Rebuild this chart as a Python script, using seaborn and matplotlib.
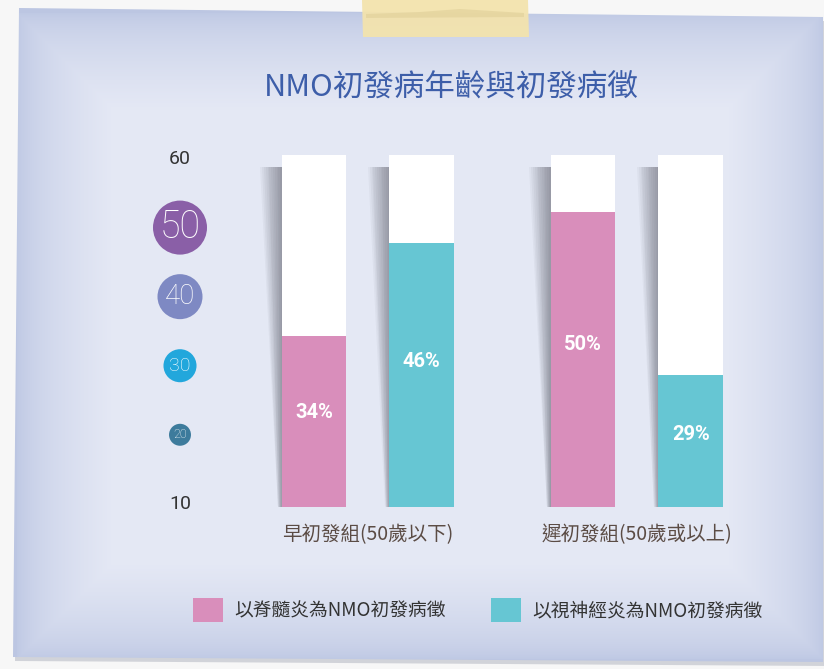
import numpy as np
import pandas as pd
import matplotlib.pyplot as plt
import seaborn as sns
from matplotlib.patches import Polygon, Patch

# data
groups = ["早初發組(50歲以下)", "遲初發組(50歲或以上)"]
symptoms = ["以脊髓炎為NMO初發病徵", "以視神經炎為NMO初發病徵"]
pct_spinal = [34, 50]
pct_optic = [46, 29]
track_top = 57.3
age_ticks = [10, 20, 30, 40, 50, 60]
age_circled = [20, 30, 40, 50]
age_circle_size = [250, 566, 1050, 1513]
age_circle_color = ["#3d7b9c", "#22a7dc", "#7e89c3", "#8a5fa7"]
age_font = [9, 14, 20, 27]

pink = "#d98ebb"
teal = "#66c6d3"

sns.set_theme(style="white")
plt.rcParams["font.family"] = ["Noto Sans CJK TC", "DejaVu Sans"]

W, H = 824, 669
fig = plt.figure(figsize=(W / 100, H / 100), dpi=100, facecolor="#f7f7f7")

# ---- paper card background ----
bg = fig.add_axes([0, 0, 1, 1])
bg.set_xlim(0, W)
bg.set_ylim(H, 0)
bg.axis("off")

card = [(19, 8), (823, 17), (823, 662), (13, 657)]
shadow = Polygon([(x + 2, y + 4) for x, y in card], closed=True,
                 facecolor="#b9bcc6", edgecolor="none", alpha=0.6, zorder=0)
bg.add_patch(shadow)

yy, xx = np.mgrid[0:H, 0:W]
d = np.minimum.reduce([xx - 16, 823 - xx, yy - 12, 659 - yy]).astype(float)
t = np.clip(d / 95.0, 0, 1) ** 0.6
edge = np.array([0.74, 0.78, 0.89])
inner = np.array([0.895, 0.91, 0.96])
img = edge[None, None, :] + (inner - edge)[None, None, :] * t[..., None]
im = bg.imshow(img, extent=(0, W, H, 0), zorder=1, interpolation="bilinear")
card_poly = Polygon(card, closed=True, facecolor="none", edgecolor="none")
bg.add_patch(card_poly)
im.set_clip_path(card_poly)

# tape
bg.add_patch(Polygon([(362, 0), (528, 0), (529, 37), (363, 37)], closed=True,
                     facecolor="#f3e3ad", edgecolor="none", alpha=0.95, zorder=3))
bg.add_patch(Polygon([(366, 14), (420, 12), (460, 9), (524, 13), (524, 17), (366, 18)],
                     closed=True, facecolor="#e2d29c", edgecolor="none", alpha=0.7, zorder=4))

fig.text(0.548, 1 - 88 / H, "NMO初發病年齡與初發病徵", ha="center", va="center",
         fontsize=22, color="#3d5ea9")

# ---- bars ----
df = pd.DataFrame({
    "group": groups * 2,
    "symptom": [symptoms[0]] * 2 + [symptoms[1]] * 2,
    "value": pct_spinal + pct_optic,
})
df["track"] = track_top

ax = fig.add_axes([230 / W, 1 - 507 / H, 550 / W, 387 / H])
ax.patch.set_alpha(0)

sns.barplot(data=df, x="group", y="track", hue="symptom", hue_order=symptoms,
            palette={symptoms[0]: "white", symptoms[1]: "white"}, saturation=1,
            width=0.8, gap=0.4, legend=False, ax=ax, zorder=2, linewidth=0)

# soft shadow on the left of each track
for p in list(ax.patches):
    x0 = p.get_x()
    top = p.get_height()
    for k in range(12):
        w = 0.08 * (k + 1) / 12
        ax.fill([x0 - w, x0, x0, x0 - w * 0.2],
                [top - 1.5, top - 1.5, 12, 12],
                color="#4a4c58", alpha=0.05, lw=0, zorder=1)

n_track = len(ax.patches)
sns.barplot(data=df, x="group", y="value", hue="symptom", hue_order=symptoms,
            palette=[pink, teal], saturation=1, width=0.8, gap=0.4, legend=False,
            ax=ax, zorder=3, linewidth=0)

for p in ax.patches[n_track:]:
    h = p.get_height()
    ax.text(p.get_x() + p.get_width() / 2, 12 + (h - 12) * 0.55, f"{h:.0f}%",
            ha="center", va="center", color="white", fontsize=14.5,
            fontweight="bold", family=["Roboto", "DejaVu Sans"], zorder=4)

ax.set_xlim(-0.513, 1.532)
ax.set_ylim(12, 61.8)
ax.set_xlabel("")
ax.set_ylabel("")
ax.set_yticks([])
ax.tick_params(axis="x", length=0, pad=12, labelsize=14, labelcolor="#5b4c45")
sns.despine(ax=ax, left=True, bottom=True)

# ---- age scale ----
ax_age = fig.add_axes([140 / W, 1 - 520 / H, 80 / W, 400 / H])
ax_age.patch.set_alpha(0)
ax_age.set_xlim(-1, 1)
ax_age.set_ylim(7.66, 65.58)
ax_age.axis("off")
ax_age.scatter([0] * len(age_circled), age_circled, s=age_circle_size,
               c=age_circle_color, linewidths=0, zorder=2)
for a in age_ticks:
    if a in age_circled:
        i = age_circled.index(a)
        ax_age.text(0, a, str(a), ha="center", va="center", color="white",
                    fontsize=age_font[i], fontweight="light",
                    family=["Roboto", "DejaVu Sans"], zorder=3)
    else:
        ax_age.text(0, a, str(a), ha="center", va="center", color="#333333",
                    fontsize=14, fontweight="normal",
                    family=["Roboto", "DejaVu Sans"], zorder=3)

# ---- legend ----
handles = [Patch(facecolor=pink, edgecolor="none"), Patch(facecolor=teal, edgecolor="none")]
fig.legend(handles, symptoms, loc="center", bbox_to_anchor=(478 / W, 1 - 610 / H),
           ncol=2, frameon=False, fontsize=13.5, handlelength=1.6, handleheight=1.6,
           handletextpad=0.6, columnspacing=2.4, labelcolor="#333333")

fig.savefig("out.png", dpi=100, facecolor=fig.get_facecolor())
